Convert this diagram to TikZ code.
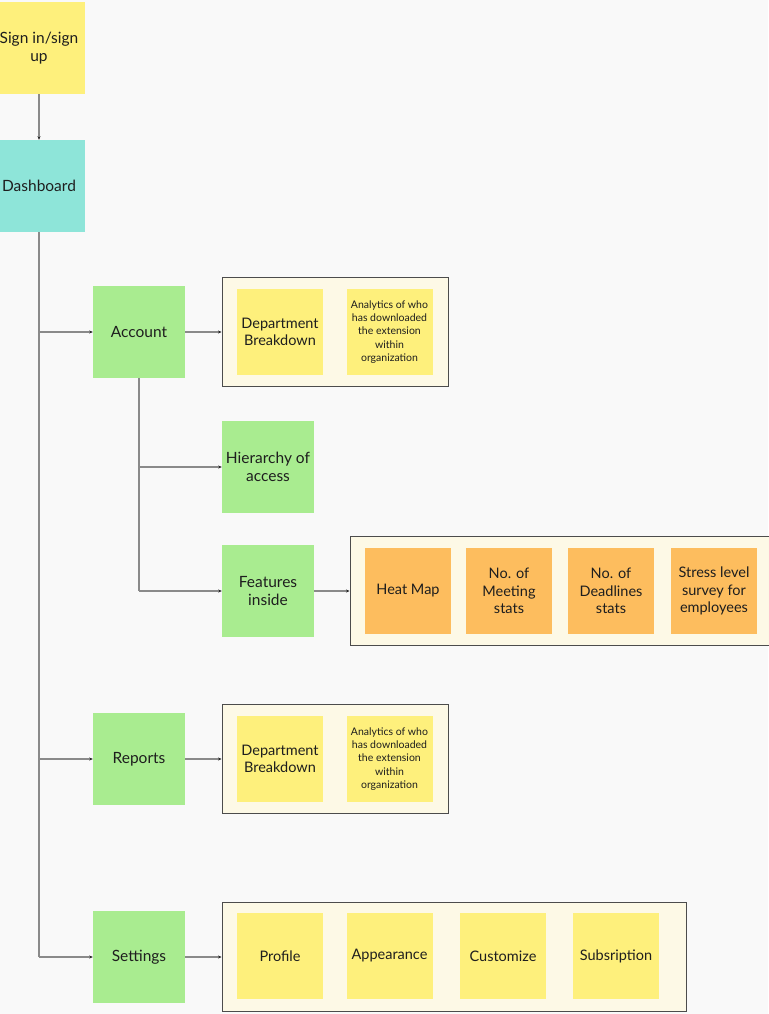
\documentclass[tikz,border=0pt]{standalone}
\usepackage{fontspec}
\setmainfont{Lato}
\usetikzlibrary{arrows.meta}
\definecolor{bg}{HTML}{F9F9F9}
\definecolor{yel}{HTML}{FEF07C}
\definecolor{teal}{HTML}{8EE5D9}
\definecolor{grn}{HTML}{A9EC90}
\definecolor{org}{HTML}{FDBD5E}
\definecolor{cont}{HTML}{FDF9E6}
\definecolor{txt}{HTML}{1E1E1E}
\definecolor{ln}{HTML}{8A8A8A}
\tikzset{
  x=1pt, y=-1pt,
  card/.style={minimum width=92pt, minimum height=92pt, inner sep=2pt, align=center,
    font=\fontsize{15.5}{18.5}\selectfont, text=txt},
  mainyel/.style={card, fill=yel},
  mainteal/.style={card, fill=teal},
  maingrn/.style={card, fill=grn},
  sub/.style={minimum width=86pt, minimum height=86pt, inner sep=2pt, align=center,
    font=\fontsize{14.5}{17.5}\selectfont, text=txt},
  subyel/.style={sub, fill=yel},
  suborg/.style={sub, fill=org},
  small/.style={font=\fontsize{10.5}{13.2}\selectfont},
  container/.style={draw=black!70, fill=cont, line width=0.9pt, inner sep=0pt},
  conn/.style={draw=ln, line width=1.1pt},
  arr/.style={conn, -{Stealth[length=3.5pt,width=3pt,color=black!85]}},
}
\begin{document}
\begin{tikzpicture}
\useasboundingbox[fill=bg] (0,0) rectangle (768,1014);

% main column
\node[mainyel] (sign) at (39,48) {Sign in/sign\\up};
\node[mainteal] (dash) at (39,186) {Dashboard};
\node[maingrn] (acc) at (139,332) {Account};
\node[maingrn] (hier) at (268,467) {Hierarchy of\\access};
\node[maingrn] (feat) at (268,591) {Features\\inside};
\node[maingrn] (rep) at (139,759) {Reports};
\node[maingrn] (set) at (139,957) {Settings};

% containers
\node[container, minimum width=226pt, minimum height=109pt] (c1) at (335,332) {};
\node[container, minimum width=440pt, minimum height=109pt] (c2) at (570,591) {};
\node[container, minimum width=226pt, minimum height=109pt] (c3) at (335,759) {};
\node[container, minimum width=464pt, minimum height=109pt] (c4) at (454,957) {};

% container 1
\node[subyel] (d1) at (280,332) {Department\\Breakdown};
\node[subyel, small] (a1) at (389.5,332) {Analytics of who\\has downloaded\\the extension\\within\\organization};
% container 2
\node[suborg] (hm) at (408,591) {Heat Map};
\node[suborg] (mt) at (509,591) {No. of\\Meeting\\stats};
\node[suborg] (dl) at (611,591) {No. of\\Deadlines\\stats};
\node[suborg] (st) at (714,591) {Stress level\\survey for\\employees};
% container 3
\node[subyel] (d3) at (280,759) {Department\\Breakdown};
\node[subyel, small] (a3) at (389.5,759) {Analytics of who\\has downloaded\\the extension\\within\\organization};
% container 4
\node[subyel] (pr) at (280,956) {Profile};
\node[subyel] (ap) at (389.5,956) {Appearance};
\node[subyel] (cu) at (503,956) {Customize};
\node[subyel] (su) at (616,956) {Subsription};

% connectors
\coordinate (tA) at (39,332);
\coordinate (tR) at (39,759);
\coordinate (tS) at (39,957);
\coordinate (bH) at (139,467);
\coordinate (bF) at (139,591);

\draw[arr] (sign.south) -- (dash.north);
\draw[conn] (dash.south) -- (tS);
\draw[arr] (tA) -- (acc.west);
\draw[arr] (tR) -- (rep.west);
\draw[arr] (tS) -- (set.west);
\draw[conn] (acc.south) -- (bF);
\draw[arr] (bH) -- (hier.west);
\draw[arr] (bF) -- (feat.west);
\draw[arr] (acc.east) -- (c1.west);
\draw[arr] (feat.east) -- (c2.west);
\draw[arr] (rep.east) -- (c3.west);
\draw[arr] (set.east) -- (c4.west);
\end{tikzpicture}
\end{document}
